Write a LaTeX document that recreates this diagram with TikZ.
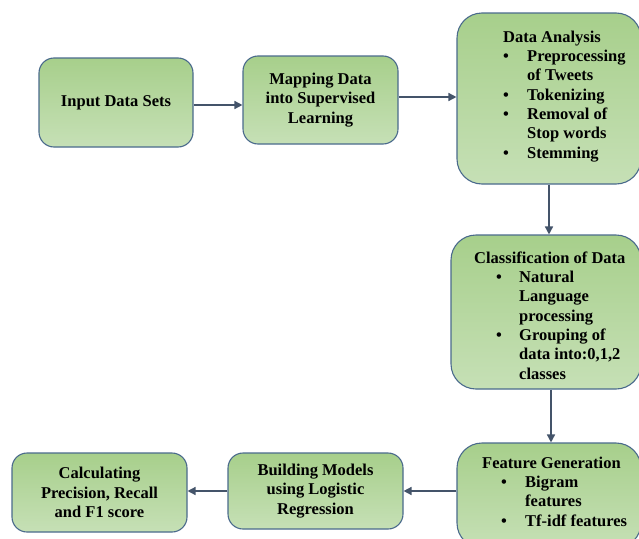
\documentclass[tikz,border=0pt]{standalone}
\usepackage{fontspec}
\setmainfont{Liberation Serif}
\usetikzlibrary{arrows.meta}

\definecolor{boxline}{HTML}{4A6A8C}
\definecolor{boxtop}{HTML}{A7CF8B}
\definecolor{boxbot}{HTML}{C6E0B6}
\definecolor{flowcol}{HTML}{44546A}

\begin{document}
\begin{tikzpicture}[x=1pt,y=-1pt,
	box/.style={draw=boxline, line width=1.1pt, rounded corners=15pt, top color=boxtop, bottom color=boxbot, inner sep=0pt, align=center, font=\fontsize{16.5}{19.3}\selectfont\bfseries},
	bigbox/.style={box, rounded corners=25pt},
	txt/.style={inner sep=0pt, anchor=north west, font=\fontsize{16.5}{19.3}\selectfont\bfseries},
	flow/.style={flowcol, line width=1.5pt, -{Triangle[length=8pt,width=8pt]}}]
	\useasboundingbox (0,0) rectangle (639,538);

	% top row
	\node[box, minimum width=154pt, minimum height=89pt] (inp) at (116,102.5) {Input Data Sets};
	\node[box, minimum width=155pt, minimum height=88pt] (map) at (320.5,100) {Mapping Data\\into Supervised\\Learning};
	\node[bigbox, minimum width=184pt, minimum height=171pt] (ana) at (549,98.5) {};
	\node[txt] (anatxt) at (503,28.5) {%
		\begin{tabular}{@{}p{24pt}@{}l@{}}
			\multicolumn{2}{@{}l@{}}{Data Analysis}\\
			\textbullet & Preprocessing\\
			& of Tweets\\
			\textbullet & Tokenizing\\
			\textbullet & Removal of\\
			& Stop words\\
			\textbullet & Stemming
		\end{tabular}};

	% right column
	\node[bigbox, minimum width=190pt, minimum height=154pt] (cls) at (546,312) {};
	\node[txt] (clstxt) at (474,249.5) {%
		\begin{tabular}{@{}p{45pt}@{}l@{}}
			\multicolumn{2}{@{}l@{}}{Classification of Data}\\
			\hspace{22pt}\textbullet & Natural\\
			& Language\\
			& processing\\
			\hspace{22pt}\textbullet & Grouping of\\
			& data into:0,1,2\\
			& classes
		\end{tabular}};

	% bottom row
	\node[bigbox, minimum width=184pt, minimum height=105pt] (fea) at (549,495.5) {};
	\node[txt] (featxt) at (482,454.5) {%
		\begin{tabular}{@{}p{43pt}@{}l@{}}
			\multicolumn{2}{@{}l@{}}{Feature Generation}\\
			\hspace{19pt}\textbullet & Bigram\\
			& features\\
			\hspace{19pt}\textbullet & Tf-idf features
		\end{tabular}};
	\node[box, minimum width=175pt, minimum height=76pt] (bld) at (315.5,491) {Building Models\\using Logistic\\Regression};
	\node[box, minimum width=175pt, minimum height=79pt] (cal) at (99.5,492.5) {Calculating\\Precision, Recall\\and F1 score};

	\draw[flow] ([yshift=-2.5pt]inp.east) -- ([yshift=-2.5pt]inp.east -| map.west);
	\draw[flow] ([yshift=3pt]map.east) -- ([yshift=3pt]map.east -| ana.west);
	\draw[flow] (ana.south) -- (ana.south |- cls.north);
	\draw[flow] ([xshift=5pt]cls.south) -- ([xshift=5pt]cls.south |- fea.north);
	\draw[flow] (fea.west |- bld.east) -- (bld.east);
	\draw[flow] (bld.west) -- (bld.west -| cal.east);
\end{tikzpicture}
\end{document}
